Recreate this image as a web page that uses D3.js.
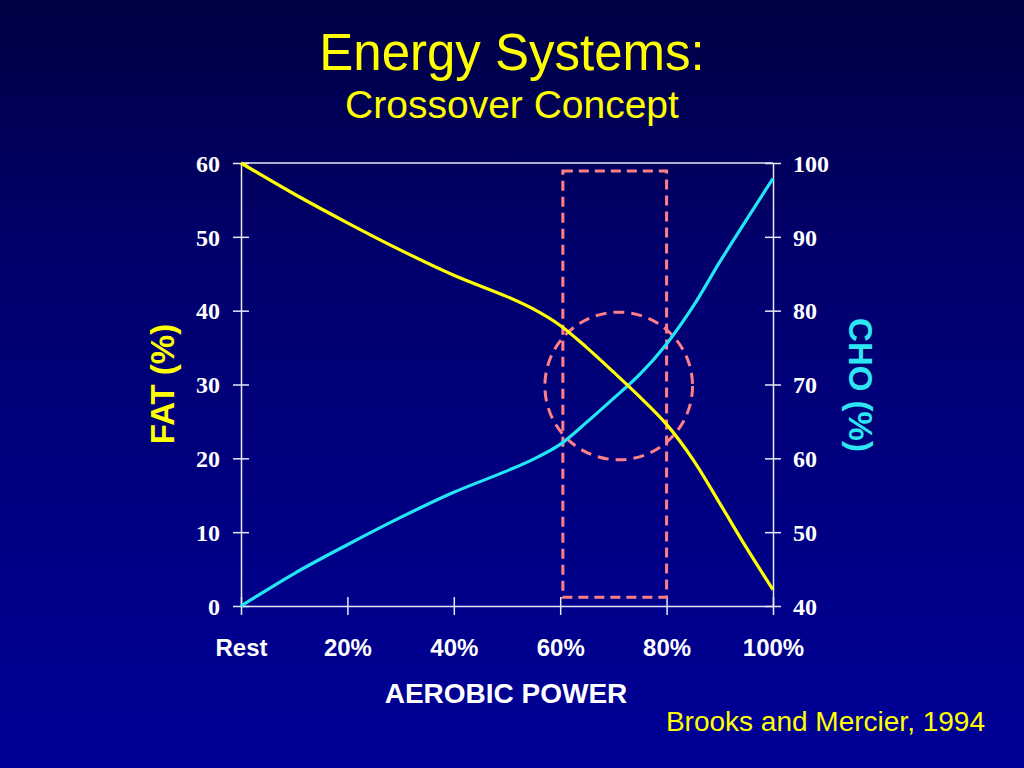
<!DOCTYPE html>
<html>
<head>
<meta charset="utf-8">
<script src="https://cdn.jsdelivr.net/npm/d3@7"></script>
<style>
  html, body { margin: 0; padding: 0; background: #000060; }
  svg { display: block; }
</style>
</head>
<body>
<svg width="1024" height="768"></svg>
<script>
// aerobic power (% of max, 0 = rest)
var power = [0, 10, 20, 30, 40, 50, 55, 60, 65, 70, 75, 80, 85, 90, 95, 100];
// fat contribution, left axis (%)
var fat = [60, 55.8, 51.9, 48.2, 44.8, 41.9, 40.2, 38.0, 35.0, 31.7, 28.3, 24.6, 19.8, 13.9, 7.9, 2.2];
// carbohydrate contribution, right axis (%)
var cho = [40, 44.4, 48.3, 52, 55.4, 58.3, 59.9, 61.9, 64.9, 68.1, 71.4, 75.5, 80.6, 86.6, 92.3, 97.9];

var xTicks = [0, 20, 40, 60, 80, 100];
var xTickLabels = ["Rest", "20%", "40%", "60%", "80%", "100%"];
var fatTicks = [0, 10, 20, 30, 40, 50, 60];
var choTicks = [40, 50, 60, 70, 80, 90, 100];

// highlighted crossover zone (power %, fat %)
var zonePower = [60.5, 80];
var zoneFat = [1.2, 58.9];
// crossover circle: power, fat, radius in fat units
var crossPoint = [71, 29.8, 10];

var svg = d3.select("svg");
var sans = "'Liberation Sans', Arial, sans-serif";
var serif = "'Liberation Serif', 'Times New Roman', serif";

// background
var defs = svg.append("defs");
var grad = defs.append("linearGradient")
    .attr("id", "bg")
    .attr("x1", 0).attr("y1", 0).attr("x2", 0).attr("y2", 1);
grad.append("stop").attr("offset", "0%").attr("stop-color", "#000044");
grad.append("stop").attr("offset", "35%").attr("stop-color", "#00006e");
grad.append("stop").attr("offset", "100%").attr("stop-color", "#000098");
svg.append("rect").attr("width", 1024).attr("height", 768).attr("fill", "url(#bg)");

var x = d3.scaleLinear().domain([0, 100]).range([241, 773]);
var yFat = d3.scaleLinear().domain([0, 60]).range([606, 163]);
var yCho = d3.scaleLinear().domain([40, 100]).range([606, 163]);

var axisColor = "#e8e8f4";

// top border
svg.append("line")
    .attr("x1", x(0)).attr("x2", x(100))
    .attr("y1", yFat(60)).attr("y2", yFat(60))
    .attr("stroke", axisColor).attr("stroke-width", 1.5);

// left axis
var gLeft = svg.append("g")
    .attr("transform", "translate(" + x(0) + ",0)")
    .call(d3.axisLeft(yFat).tickValues(fatTicks).tickSize(8).tickSizeOuter(0));
gLeft.selectAll("line").attr("x1", -8).attr("x2", 8);
gLeft.selectAll("text")
    .attr("x", -21)
    .attr("dy", "0.34em")
    .style("font-family", serif)
    .style("font-weight", "bold")
    .style("font-size", "24px")
    .attr("fill", "#ffffff");

// right axis
var gRight = svg.append("g")
    .attr("transform", "translate(" + x(100) + ",0)")
    .call(d3.axisRight(yCho).tickValues(choTicks).tickSize(8).tickSizeOuter(0));
gRight.selectAll("line").attr("x1", -8).attr("x2", 8);
gRight.selectAll("text")
    .attr("x", 20)
    .attr("dy", "0.34em")
    .style("font-family", serif)
    .style("font-weight", "bold")
    .style("font-size", "24px")
    .attr("fill", "#ffffff");

// bottom axis
var gBottom = svg.append("g")
    .attr("transform", "translate(0," + yFat(0) + ")")
    .call(d3.axisBottom(x).tickValues(xTicks)
        .tickFormat(function (d, i) { return xTickLabels[i]; })
        .tickSize(9).tickSizeOuter(0));
gBottom.selectAll("line").attr("y1", -9).attr("y2", 9);
gBottom.selectAll("text")
    .attr("y", 50)
    .attr("dy", 0)
    .style("font-family", sans)
    .style("font-weight", "bold")
    .style("font-size", "24px")
    .attr("fill", "#ffffff");

[gLeft, gRight, gBottom].forEach(function (g) {
    g.selectAll(".domain").attr("stroke", axisColor).attr("stroke-width", 1.5);
    g.selectAll(".tick line").attr("stroke", axisColor).attr("stroke-width", 1.5);
});

// crossover zone
var dashColor = "#ff7f86";
svg.append("rect")
    .attr("x", x(zonePower[0]))
    .attr("y", yFat(zoneFat[1]))
    .attr("width", x(zonePower[1]) - x(zonePower[0]))
    .attr("height", yFat(zoneFat[0]) - yFat(zoneFat[1]))
    .attr("fill", "none")
    .attr("stroke", dashColor)
    .attr("stroke-width", 3)
    .attr("stroke-dasharray", "10,6");

var rPx = yFat(0) - yFat(crossPoint[2]);
svg.append("circle")
    .attr("cx", x(crossPoint[0]))
    .attr("cy", yFat(crossPoint[1]))
    .attr("r", rPx)
    .attr("fill", "none")
    .attr("stroke", dashColor)
    .attr("stroke-width", 3)
    .attr("stroke-dasharray", "11,7");

// curves
var fatLine = d3.line()
    .x(function (d, i) { return x(power[i]); })
    .y(function (d) { return yFat(d); })
    .curve(d3.curveCatmullRom.alpha(0.5));
var choLine = d3.line()
    .x(function (d, i) { return x(power[i]); })
    .y(function (d) { return yCho(d); })
    .curve(d3.curveCatmullRom.alpha(0.5));

svg.append("path")
    .attr("d", choLine(cho))
    .attr("fill", "none")
    .attr("stroke", "#22e6f6")
    .attr("stroke-width", 3.2);

svg.append("path")
    .attr("d", fatLine(fat))
    .attr("fill", "none")
    .attr("stroke", "#ffff00")
    .attr("stroke-width", 3.2);

// titles
svg.append("text")
    .attr("x", 512).attr("y", 70)
    .attr("text-anchor", "middle")
    .style("font-family", sans)
    .style("font-size", "51px")
    .attr("fill", "#ffff00")
    .text("Energy Systems:");

svg.append("text")
    .attr("x", 512).attr("y", 118)
    .attr("text-anchor", "middle")
    .style("font-family", sans)
    .style("font-size", "39px")
    .attr("fill", "#ffff00")
    .text("Crossover Concept");

// axis titles
svg.append("text")
    .attr("transform", "translate(174,384) rotate(-90)")
    .attr("text-anchor", "middle")
    .style("font-family", sans)
    .style("font-weight", "bold")
    .style("font-size", "33px")
    .attr("fill", "#ffff00")
    .text("FAT (%)");

svg.append("text")
    .attr("transform", "translate(849,385) rotate(90)")
    .attr("text-anchor", "middle")
    .style("font-family", sans)
    .style("font-weight", "bold")
    .style("font-size", "33px")
    .attr("fill", "#2ee6f2")
    .text("CHO (%)");

svg.append("text")
    .attr("x", 506).attr("y", 703)
    .attr("text-anchor", "middle")
    .style("font-family", sans)
    .style("font-weight", "bold")
    .style("font-size", "28px")
    .attr("fill", "#ffffff")
    .text("AEROBIC POWER");

svg.append("text")
    .attr("x", 985).attr("y", 731)
    .attr("text-anchor", "end")
    .style("font-family", sans)
    .style("font-size", "28px")
    .attr("fill", "#ffff00")
    .text("Brooks and Mercier, 1994");
</script>
</body>
</html>
